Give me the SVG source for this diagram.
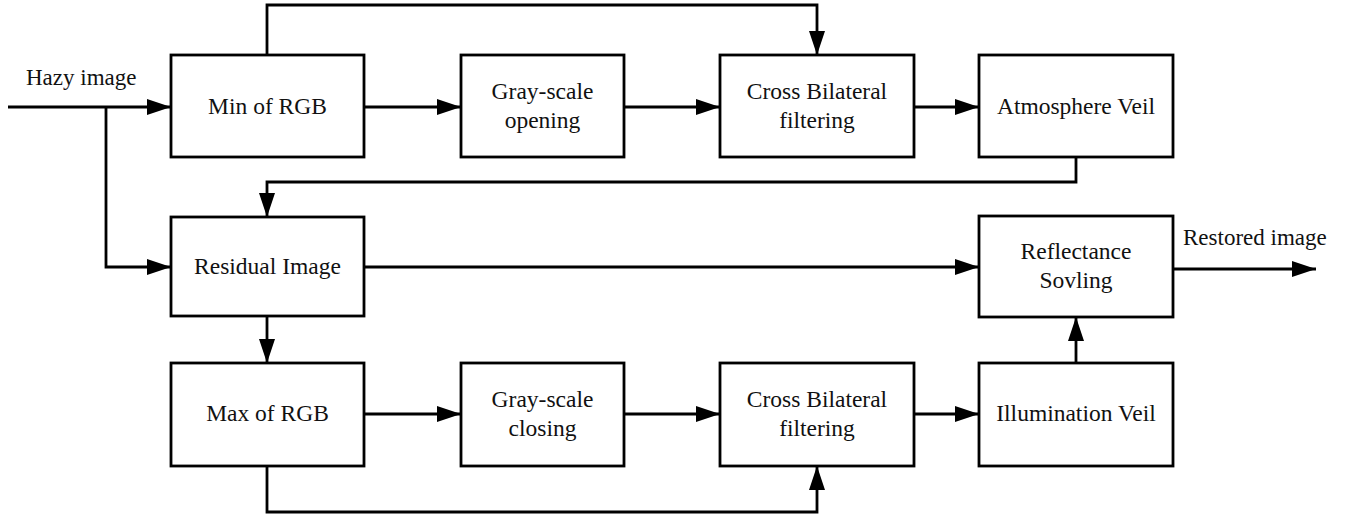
<svg xmlns="http://www.w3.org/2000/svg" width="1349" height="516" viewBox="0 0 1349 516">
<defs>
<marker id="arr" markerUnits="userSpaceOnUse" markerWidth="26" markerHeight="18" refX="24" refY="8" orient="auto">
<path d="M0,0 L24,8 L0,16 z" fill="#000"/>
</marker>
<style>
.box{fill:#fff;stroke:#000;stroke-width:2.8}
.t{font-family:"Liberation Serif","Times New Roman",serif;font-size:23.5px;fill:#111;text-anchor:middle}
.lbl{font-family:"Liberation Serif","Times New Roman",serif;font-size:23px;fill:#111}
.c{fill:none;stroke:#000;stroke-width:2.8}
.a{marker-end:url(#arr)}
</style>
</defs>
<rect width="1349" height="516" fill="#fff"/>
<g id="connectors">
<path class="c a" d="M8,107 H171"/>
<path class="c a" d="M106,107 V267 H171"/>
<path class="c a" d="M267,55 V5 H817 V55"/>
<path class="c a" d="M364,107 H461"/>
<path class="c a" d="M624,107 H720"/>
<path class="c a" d="M914,107 H979"/>
<path class="c a" d="M1076,157 V182 H267 V217"/>
<path class="c a" d="M364,267 H979"/>
<path class="c a" d="M1173,269 H1316"/>
<path class="c a" d="M267,316 V363"/>
<path class="c a" d="M364,414 H461"/>
<path class="c a" d="M624,414 H720"/>
<path class="c a" d="M914,414 H979"/>
<path class="c a" d="M267,466 V512 H817 V466"/>
<path class="c a" d="M1076,363 V317"/>
<text class="lbl" x="26" y="85">Hazy image</text>
<text class="lbl" x="1183" y="245">Restored image</text>
</g>
<g id="min-rgb"><rect class="box" x="171" y="55" width="193" height="102"/><text class="t" x="267.5" y="114">Min of RGB</text></g>
<g id="gray-opening"><rect class="box" x="461" y="55" width="163" height="102"/><text class="t" x="542.5" y="99">Gray-scale</text><text class="t" x="542.5" y="128">opening</text></g>
<g id="cross-top"><rect class="box" x="720" y="55" width="194" height="102"/><text class="t" x="817" y="99">Cross Bilateral</text><text class="t" x="817" y="128">filtering</text></g>
<g id="atmosphere"><rect class="box" x="979" y="55" width="194" height="102"/><text class="t" x="1076" y="114">Atmosphere Veil</text></g>
<g id="residual"><rect class="box" x="171" y="217" width="193" height="99"/><text class="t" x="267.5" y="274">Residual Image</text></g>
<g id="reflectance"><rect class="box" x="979" y="216" width="194" height="101"/><text class="t" x="1076" y="259">Reflectance</text><text class="t" x="1076" y="288">Sovling</text></g>
<g id="max-rgb"><rect class="box" x="171" y="363" width="193" height="103"/><text class="t" x="267.5" y="421">Max of RGB</text></g>
<g id="gray-closing"><rect class="box" x="461" y="363" width="163" height="103"/><text class="t" x="542.5" y="407">Gray-scale</text><text class="t" x="542.5" y="436">closing</text></g>
<g id="cross-bottom"><rect class="box" x="720" y="363" width="194" height="103"/><text class="t" x="817" y="407">Cross Bilateral</text><text class="t" x="817" y="436">filtering</text></g>
<g id="illumination"><rect class="box" x="979" y="363" width="194" height="103"/><text class="t" x="1076" y="421">Illumination Veil</text></g>
</svg>
